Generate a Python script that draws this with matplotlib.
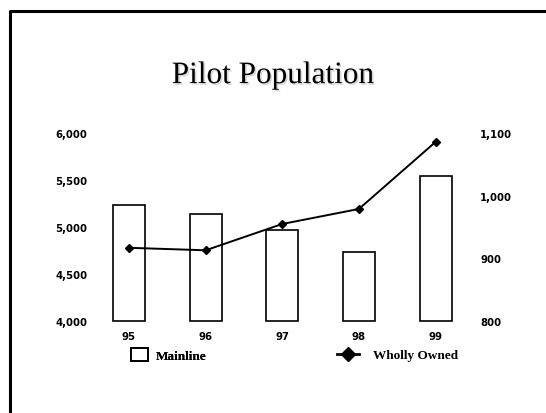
import matplotlib.pyplot as plt
import matplotlib.patheffects as pe
from matplotlib.lines import Line2D
from matplotlib.patches import Patch

years = ["95", "96", "97", "98", "99"]
mainline = [5240, 5135, 4965, 4735, 5545]
wholly_owned = [917, 913, 955, 979, 1086]
left_ticks = [4000, 4500, 5000, 5500, 6000]
right_ticks = [800, 900, 1000, 1100]

fig = plt.figure(figsize=(5.46, 4.14), dpi=100)
fig.patch.set_facecolor("white")

# slide frame (left and top edges)
fig.add_artist(Line2D([0.0174, 0.0174, 1.0], [0.0, 0.972, 0.972],
                      transform=fig.transFigure, color="black", lw=2.2))

fig.text(0.5, 0.815, "Pilot Population", ha="center", va="center",
         family="Liberation Serif", fontsize=22.5,
         path_effects=[pe.withSimplePatchShadow(offset=(1.2, -1.2),
                                                shadow_rgbFace="gray", alpha=0.3)])

ax = fig.add_axes([0.166, 0.222, 0.702, 0.454])
x = range(len(years))
base = left_ticks[0]
ax.bar(x, [v - base for v in mainline], bottom=base, width=0.42,
       facecolor="white", edgecolor="black", linewidth=1.2, clip_on=False)
ax.set_xlim(-0.5, 4.5)
ax.set_ylim(4000, 6000)
ax.set_yticks(left_ticks)
ax.set_yticklabels([f"{v:,}" for v in left_ticks])
ax.set_xticks(list(x))
ax.set_xticklabels(years)

ax2 = ax.twinx()
ax2.plot(list(x), wholly_owned, color="black", lw=1.4, marker="D", ms=4.3,
         clip_on=False)
ax2.set_ylim(800, 1100)
ax2.set_yticks(right_ticks)
ax2.set_yticklabels([f"{v:,}" for v in right_ticks])

for a in (ax, ax2):
    for s in a.spines.values():
        s.set_visible(False)
    a.tick_params(length=0, labelsize=7.3)
    for lab in a.get_xticklabels() + a.get_yticklabels():
        lab.set_fontweight("bold")
ax.tick_params(axis="x", pad=7)
ax.tick_params(axis="y", pad=2.5)
ax2.tick_params(axis="y", pad=4.5)

legend_font = {"family": "Liberation Serif", "weight": "bold", "size": 9.5}
leg1 = fig.legend(handles=[Patch(facecolor="white", edgecolor="black", lw=1.4,
                                 label="Mainline")],
                  loc="center left", bbox_to_anchor=(130.5 / 546, 1 - 356 / 414),
                  frameon=False, prop=legend_font, borderpad=0, borderaxespad=0,
                  handlelength=1.3, handleheight=1.15, handletextpad=0.6)
leg2 = fig.legend(handles=[Line2D([], [], color="black", lw=2, marker="D", ms=7,
                                  label="Wholly Owned")],
                  loc="center left", bbox_to_anchor=(337 / 546, 1 - 356 / 414),
                  frameon=False, prop=legend_font, borderpad=0, borderaxespad=0,
                  handlelength=1.7, handletextpad=1.0)
fig.add_artist(leg1)

fig.savefig("out.png", dpi=100)
